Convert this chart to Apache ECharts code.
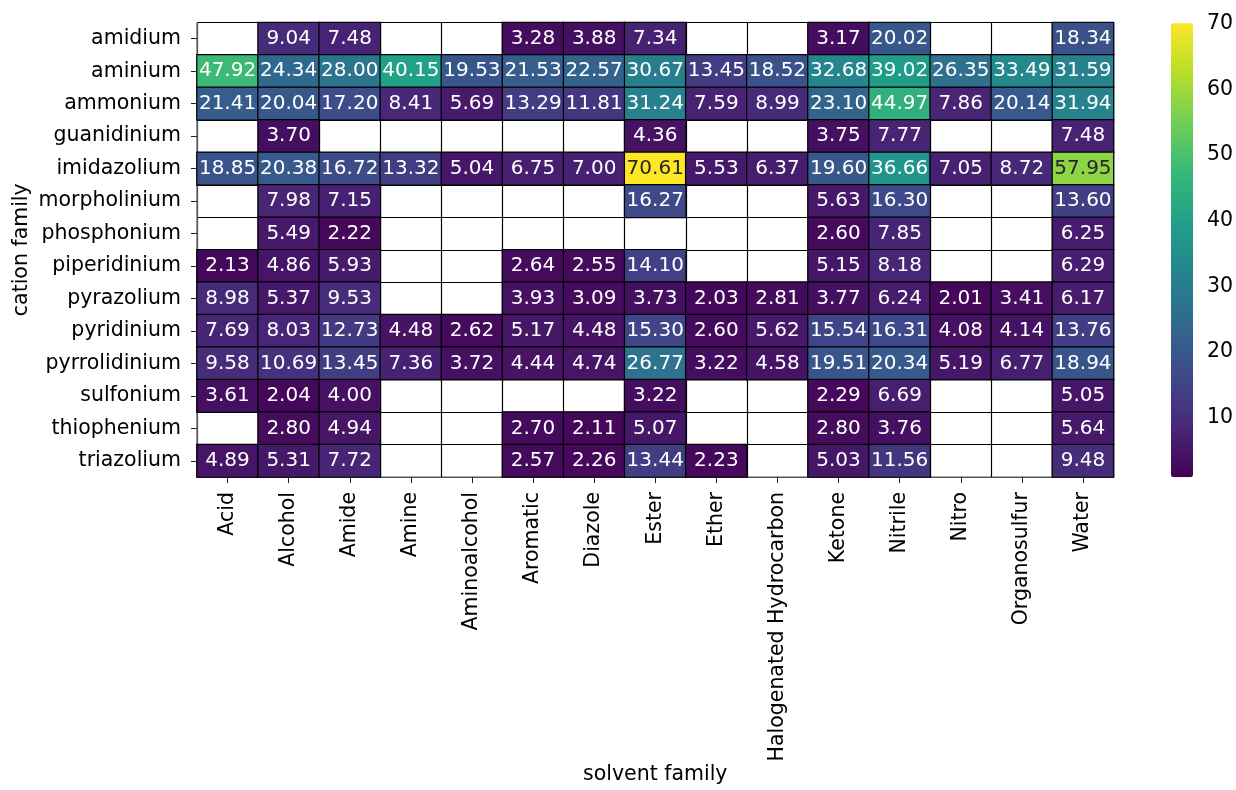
<!DOCTYPE html>
<html>
<head>
<meta charset="utf-8">
<script src="https://cdn.jsdelivr.net/npm/echarts@6/dist/echarts.min.js"></script>
<style>
  html, body { margin: 0; padding: 0; background: #fff; }
  #chart { width: 1236px; height: 790px; }
</style>
</head>
<body>
<div id="chart"></div>
<script>
// Solvent families along the x axis
const solvents = ['Acid', 'Alcohol', 'Amide', 'Amine', 'Aminoalcohol', 'Aromatic', 'Diazole',
  'Ester', 'Ether', 'Halogenated Hydrocarbon', 'Ketone', 'Nitrile', 'Nitro', 'Organosulfur', 'Water'];

// Cation families down the y axis (top to bottom)
const cations = ['amidium', 'aminium', 'ammonium', 'guanidinium', 'imidazolium', 'morpholinium',
  'phosphonium', 'piperidinium', 'pyrazolium', 'pyridinium', 'pyrrolidinium', 'sulfonium',
  'thiophenium', 'triazolium'];

// One row per cation family, one value per solvent family (null = no data)
const amidium      = [null, 9.04, 7.48, null, null, 3.28, 3.88, 7.34, null, null, 3.17, 20.02, null, null, 18.34];
const aminium      = [47.92, 24.34, 28.00, 40.15, 19.53, 21.53, 22.57, 30.67, 13.45, 18.52, 32.68, 39.02, 26.35, 33.49, 31.59];
const ammonium     = [21.41, 20.04, 17.20, 8.41, 5.69, 13.29, 11.81, 31.24, 7.59, 8.99, 23.10, 44.97, 7.86, 20.14, 31.94];
const guanidinium  = [null, 3.70, null, null, null, null, null, 4.36, null, null, 3.75, 7.77, null, null, 7.48];
const imidazolium  = [18.85, 20.38, 16.72, 13.32, 5.04, 6.75, 7.00, 70.61, 5.53, 6.37, 19.60, 36.66, 7.05, 8.72, 57.95];
const morpholinium = [null, 7.98, 7.15, null, null, null, null, 16.27, null, null, 5.63, 16.30, null, null, 13.60];
const phosphonium  = [null, 5.49, 2.22, null, null, null, null, null, null, null, 2.60, 7.85, null, null, 6.25];
const piperidinium = [2.13, 4.86, 5.93, null, null, 2.64, 2.55, 14.10, null, null, 5.15, 8.18, null, null, 6.29];
const pyrazolium   = [8.98, 5.37, 9.53, null, null, 3.93, 3.09, 3.73, 2.03, 2.81, 3.77, 6.24, 2.01, 3.41, 6.17];
const pyridinium   = [7.69, 8.03, 12.73, 4.48, 2.62, 5.17, 4.48, 15.30, 2.60, 5.62, 15.54, 16.31, 4.08, 4.14, 13.76];
const pyrrolidinium= [9.58, 10.69, 13.45, 7.36, 3.72, 4.44, 4.74, 26.77, 3.22, 4.58, 19.51, 20.34, 5.19, 6.77, 18.94];
const sulfonium    = [3.61, 2.04, 4.00, null, null, null, null, 3.22, null, null, 2.29, 6.69, null, null, 5.05];
const thiophenium  = [null, 2.80, 4.94, null, null, 2.70, 2.11, 5.07, null, null, 2.80, 3.76, null, null, 5.64];
const triazolium   = [4.89, 5.31, 7.72, null, null, 2.57, 2.26, 13.44, 2.23, null, 5.03, 11.56, null, null, 9.48];

const rows = [amidium, aminium, ammonium, guanidinium, imidazolium, morpholinium, phosphonium,
  piperidinium, pyrazolium, pyridinium, pyrrolidinium, sulfonium, thiophenium, triazolium];

// Colour bar range and tick labels
const colorMin = 0.85;
const colorMax = 70.1;
const colorTicks = [10, 20, 30, 40, 50, 60, 70];

const viridis = ['#440154', '#482878', '#3e4989', '#31688e', '#26828e',
  '#1f9e89', '#35b779', '#6ece58', '#b5de2b', '#fde725'];

const FONT = 'DejaVu Sans';
const AXIS_FONT_SIZE = 20.5;

// Dark text on the bright end of the scale, white elsewhere
function textColorFor(v) {
  const t = (v - colorMin) / (colorMax - colorMin);
  return t > 0.75 ? '#262626' : '#ffffff';
}

const cells = [];
rows.forEach((row, yi) => {
  row.forEach((v, xi) => {
    if (v === null) return;
    cells.push({ value: [xi, yi, v], label: { color: textColorFor(v) } });
  });
});

const chart = echarts.init(document.getElementById('chart'), null, { renderer: 'canvas' });

chart.setOption({
  backgroundColor: '#ffffff',
  animation: false,
  grid: [
    { left: 197, top: 22.5, width: 916.5, height: 454.5, show: true, borderColor: '#555', borderWidth: 1,
      backgroundColor: '#fff', containLabel: false, outerBoundsMode: 'none' },
    { left: 1171, top: 23.3, width: 22, height: 454, containLabel: false, outerBoundsMode: 'none' }
  ],
  xAxis: [
    {
      type: 'category', data: solvents, gridIndex: 0,
      name: 'solvent family', nameLocation: 'middle', nameGap: 287, nameMoveOverlap: false,
      nameTextStyle: { fontFamily: FONT, fontSize: AXIS_FONT_SIZE, color: '#000' },
      axisLine: { show: true, lineStyle: { color: '#555', width: 1 } },
      axisTick: { show: true, alignWithLabel: true, length: 6, lineStyle: { color: '#222' } },
      axisLabel: { rotate: 90, margin: 15, fontFamily: FONT, fontSize: AXIS_FONT_SIZE, color: '#000', interval: 0 },
      splitLine: { show: true, interval: 0, lineStyle: { color: '#000', width: 1.2 } }
    },
    { type: 'value', gridIndex: 1, show: false, min: 0, max: 1 }
  ],
  yAxis: [
    {
      type: 'category', data: cations, gridIndex: 0, inverse: true,
      name: 'cation family', nameLocation: 'middle', nameGap: 165, nameMoveOverlap: false,
      nameTextStyle: { fontFamily: FONT, fontSize: AXIS_FONT_SIZE, color: '#000' },
      axisLine: { show: true, lineStyle: { color: '#555', width: 1 } },
      axisTick: { show: true, alignWithLabel: true, length: 6, lineStyle: { color: '#222' } },
      axisLabel: { margin: 16, fontFamily: FONT, fontSize: AXIS_FONT_SIZE, color: '#000', interval: 0 },
      splitLine: { show: true, interval: 0, lineStyle: { color: '#000', width: 1.2 } }
    },
    {
      type: 'value', gridIndex: 1, position: 'right', min: colorMin, max: colorMax,
      axisLine: { show: false },
      splitLine: { show: false },
      axisTick: { show: true, length: 6, inside: false, customValues: colorTicks, lineStyle: { color: '#222' } },
      axisLabel: { show: true, margin: 14, customValues: colorTicks, fontFamily: FONT, fontSize: AXIS_FONT_SIZE, color: '#000' }
    }
  ],
  visualMap: {
    type: 'continuous',
    seriesIndex: 0,
    min: colorMin,
    max: colorMax,
    calculable: false,
    showLabel: false,
    text: null,
    padding: 0,
    left: 1171,
    top: 23.3,
    itemWidth: 22,
    itemHeight: 454,
    inRange: { color: viridis }
  },
  series: [
    {
      type: 'heatmap',
      xAxisIndex: 0,
      yAxisIndex: 0,
      data: cells,
      itemStyle: { borderColor: '#000', borderWidth: 1.2 },
      label: {
        show: true,
        fontFamily: FONT,
        fontSize: 20,
        formatter: p => p.value[2].toFixed(2)
      },
      emphasis: { disabled: true }
    }
  ]
});
</script>
</body>
</html>
